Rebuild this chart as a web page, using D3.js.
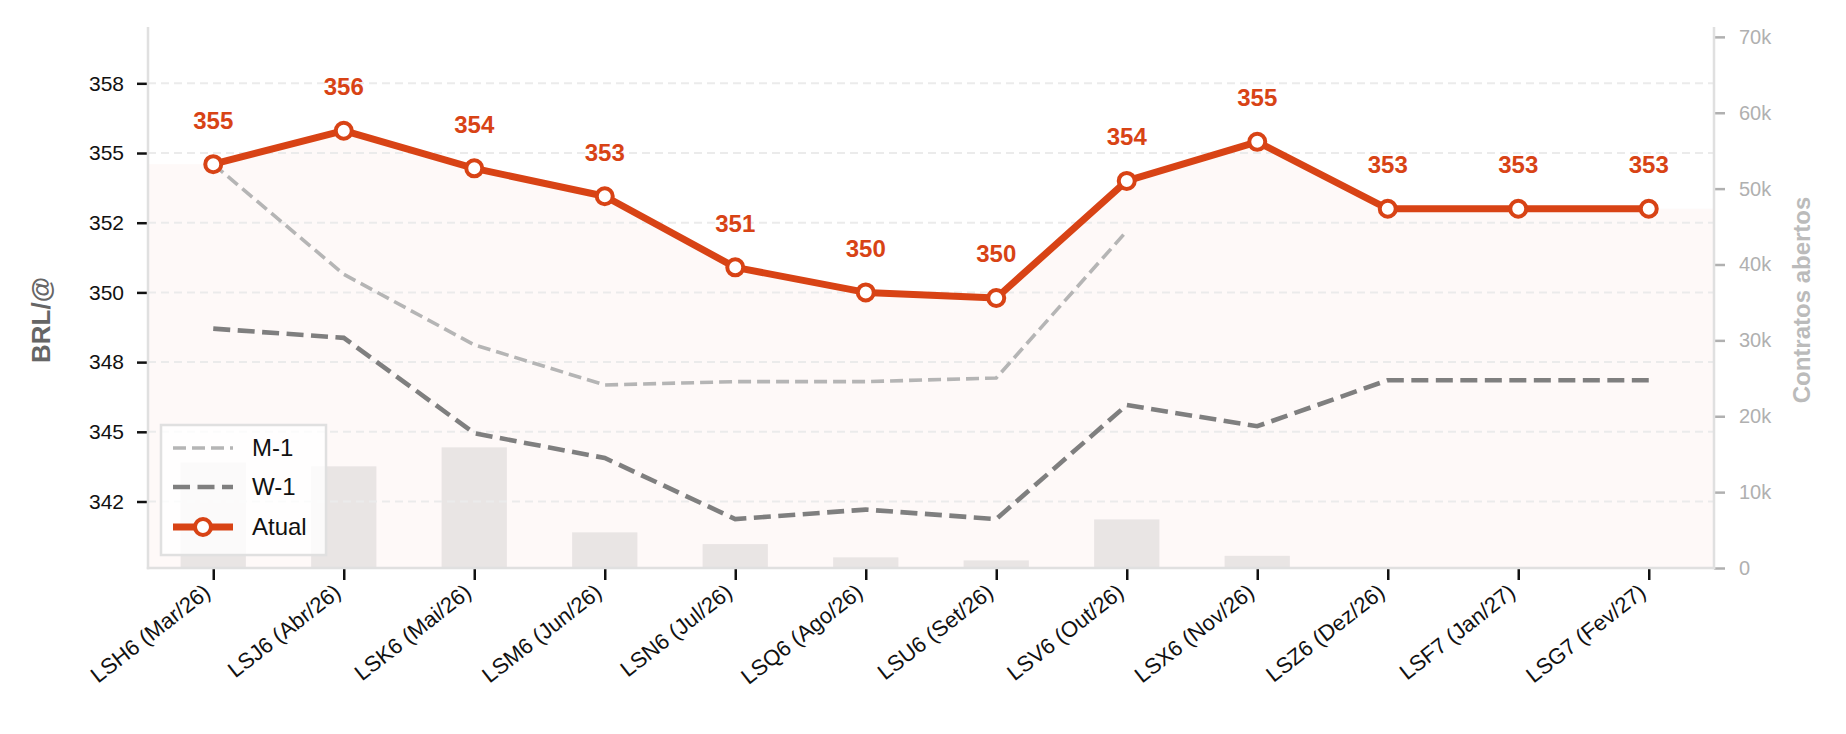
<!DOCTYPE html>
<html><head><meta charset="utf-8">
<script src="https://cdn.jsdelivr.net/npm/d3@7"></script>
<style>
body{margin:0;background:#fff}
svg{display:block}
text{font-family:"Liberation Sans",Arial,Helvetica,sans-serif}
</style>
</head><body>
<svg id="chart" width="1846" height="734"></svg>
<script>
// ---------- data ----------
const categories = ["LSH6 (Mar/26)","LSJ6 (Abr/26)","LSK6 (Mai/26)","LSM6 (Jun/26)","LSN6 (Jul/26)","LSQ6 (Ago/26)","LSU6 (Set/26)","LSV6 (Out/26)","LSX6 (Nov/26)","LSZ6 (Dez/26)","LSF7 (Jan/27)","LSG7 (Fev/27)"];
const atual = [354.6, 355.8, 354.45, 353.45, 350.9, 350.0, 349.8, 354.0, 355.4, 353.0, 353.0, 353.0];
const m1 = [354.6, 350.65, 348.12, 346.68, 346.8, 346.8, 346.93, 352.2];
const w1 = [348.7, 348.37, 344.95, 344.06, 341.87, 342.21, 341.87, 345.96, 345.2, 346.85, 346.85, 346.85];
const openInterest = [13900, 13400, 15900, 4700, 3150, 1400, 1000, 6400, 1600, 0, 0, 0];
const leftTicks = [342.5, 345, 347.5, 350, 352.5, 355, 357.5];
const leftTickLabels = ["342", "345", "348", "350", "352", "355", "358"];
const rightTicks = [0, 10000, 20000, 30000, 40000, 50000, 60000, 70000];
const rightTickLabels = ["0", "10k", "20k", "30k", "40k", "50k", "60k", "70k"];
const seriesNames = ["M-1", "W-1", "Atual"];

// ---------- layout ----------
const L = 148, R = 1714, T = 27, B = 568;
const ORANGE = "#d84315";
const svg = d3.select("#chart");

const x = d3.scaleLinear().domain([-0.5, categories.length - 0.5]).range([L, R]);
const y = d3.scaleLinear().domain([340.115, 359.52]).range([B, T]);
const y2 = d3.scaleLinear().domain([0, 71300]).range([B, T]);

// fill under Atual (extended to both spines)
const fillPts = [[-0.5, atual[0]], ...atual.map((v, i) => [i, v]), [categories.length - 0.5, atual[atual.length - 1]]];
svg.append("path")
  .attr("d", d3.area().x(d => x(d[0])).y0(B).y1(d => y(d[1]))(fillPts))
  .attr("fill", ORANGE).attr("fill-opacity", 0.03);

// bars (open interest) on secondary axis
svg.append("g").selectAll("rect").data(openInterest).join("rect")
  .attr("x", (d, i) => x(i - 0.25))
  .attr("width", x(0.25) - x(-0.25))
  .attr("y", d => y2(d))
  .attr("height", d => B - y2(d))
  .attr("fill", "#e2dedd").attr("fill-opacity", 0.75);

// grid
svg.append("g").selectAll("line").data(leftTicks).join("line")
  .attr("x1", L).attr("x2", R)
  .attr("y1", d => y(d)).attr("y2", d => y(d))
  .attr("stroke", "#ebebeb").attr("stroke-width", 2).attr("stroke-dasharray", "8,5");

// left axis
const yAxis = d3.axisLeft(y).tickValues(leftTicks).tickFormat((d, i) => leftTickLabels[i]).tickSize(11).tickPadding(13);
const gy = svg.append("g").attr("transform", `translate(${L},0)`).call(yAxis);
gy.select(".domain").remove();
gy.selectAll(".tick line").attr("stroke", "#111").attr("stroke-width", 2.5);
gy.selectAll(".tick text").attr("fill", "#111").style("font-size", "21px");

// right axis
const y2Axis = d3.axisRight(y2).tickValues(rightTicks).tickFormat((d, i) => rightTickLabels[i]).tickSize(11).tickPadding(14);
const gy2 = svg.append("g").attr("transform", `translate(${R},0)`).call(y2Axis);
gy2.select(".domain").remove();
gy2.selectAll(".tick line").attr("stroke", "#b0b0b0").attr("stroke-width", 2.5);
gy2.selectAll(".tick text").attr("fill", "#b0b0b0").style("font-size", "20px");

// x axis
const xAxis = d3.axisBottom(x).tickValues(d3.range(categories.length)).tickFormat(i => categories[i]).tickSize(12).tickPadding(6);
const gx = svg.append("g").attr("transform", `translate(0,${B})`).call(xAxis);
gx.select(".domain").remove();
gx.selectAll(".tick line").attr("stroke", "#111").attr("stroke-width", 2.5);
gx.selectAll(".tick text")
  .attr("fill", "#111").style("font-size", "22px")
  .attr("text-anchor", "end")
  .attr("y", 0).attr("dy", "0")
  .attr("transform", "translate(-2,27) rotate(-38)");

// spines
svg.append("line").attr("x1", L).attr("x2", L).attr("y1", T).attr("y2", B + 1.2).attr("stroke", "#e0e0e0").attr("stroke-width", 2.5);
svg.append("line").attr("x1", R).attr("x2", R).attr("y1", T).attr("y2", B + 1.2).attr("stroke", "#e0e0e0").attr("stroke-width", 2.5);
svg.append("line").attr("x1", L - 1.2).attr("x2", R + 1.2).attr("y1", B).attr("y2", B).attr("stroke", "#e0e0e0").attr("stroke-width", 2.5);

// lines
const line = d3.line().x((d, i) => x(i)).y(d => y(d));
svg.append("path").attr("d", line(m1)).attr("fill", "none")
  .attr("stroke", "#b5b5b5").attr("stroke-width", 3.6).attr("stroke-dasharray", "13,6");
svg.append("path").attr("d", line(w1)).attr("fill", "none")
  .attr("stroke", "#7f7f7f").attr("stroke-width", 4.6).attr("stroke-dasharray", "17,7.5");
svg.append("path").attr("d", line(atual)).attr("fill", "none")
  .attr("stroke", ORANGE).attr("stroke-width", 7).attr("stroke-linejoin", "round");
svg.append("g").selectAll("circle").data(atual).join("circle")
  .attr("cx", (d, i) => x(i)).attr("cy", d => y(d)).attr("r", 8)
  .attr("fill", "#fff").attr("stroke", ORANGE).attr("stroke-width", 4);

// value labels
svg.append("g").selectAll("text").data(atual).join("text")
  .attr("x", (d, i) => x(i)).attr("y", d => y(d) - 44).attr("dy", "0.35em")
  .attr("text-anchor", "middle").attr("fill", ORANGE)
  .style("font-size", "24px").style("font-weight", "bold")
  .text(d => d3.format(".0f")(d));

// axis titles
svg.append("text").attr("transform", "translate(50,320) rotate(-90)")
  .attr("text-anchor", "middle").attr("fill", "#666")
  .style("font-size", "26px").style("font-weight", "bold").text("BRL/@");
svg.append("text").attr("transform", "translate(1810,300) rotate(-90)")
  .attr("text-anchor", "middle").attr("fill", "#bbb")
  .style("font-size", "24px").style("font-weight", "bold").text("Contratos abertos");

// legend
const lg = svg.append("g");
lg.append("rect").attr("x", 161).attr("y", 425).attr("width", 165).attr("height", 130)
  .attr("fill", "#fff").attr("fill-opacity", 0.8).attr("stroke", "#e0e0e0").attr("stroke-width", 2.5);
const rows = [448, 487, 527];
lg.append("line").attr("x1", 173).attr("x2", 233).attr("y1", rows[0]).attr("y2", rows[0])
  .attr("stroke", "#b5b5b5").attr("stroke-width", 3.6).attr("stroke-dasharray", "13,6");
lg.append("line").attr("x1", 173).attr("x2", 233).attr("y1", rows[1]).attr("y2", rows[1])
  .attr("stroke", "#7f7f7f").attr("stroke-width", 4.6).attr("stroke-dasharray", "17,7.5");
lg.append("line").attr("x1", 173).attr("x2", 233).attr("y1", rows[2]).attr("y2", rows[2])
  .attr("stroke", ORANGE).attr("stroke-width", 7);
lg.append("circle").attr("cx", 203).attr("cy", rows[2]).attr("r", 8)
  .attr("fill", "#fff").attr("stroke", ORANGE).attr("stroke-width", 4);
lg.selectAll("text.l").data(seriesNames).join("text").attr("class", "l")
  .attr("x", 252).attr("y", (d, i) => rows[i]).attr("dy", "0.35em")
  .attr("fill", "#111").style("font-size", "24px").text(d => d);
</script>
</body></html>
